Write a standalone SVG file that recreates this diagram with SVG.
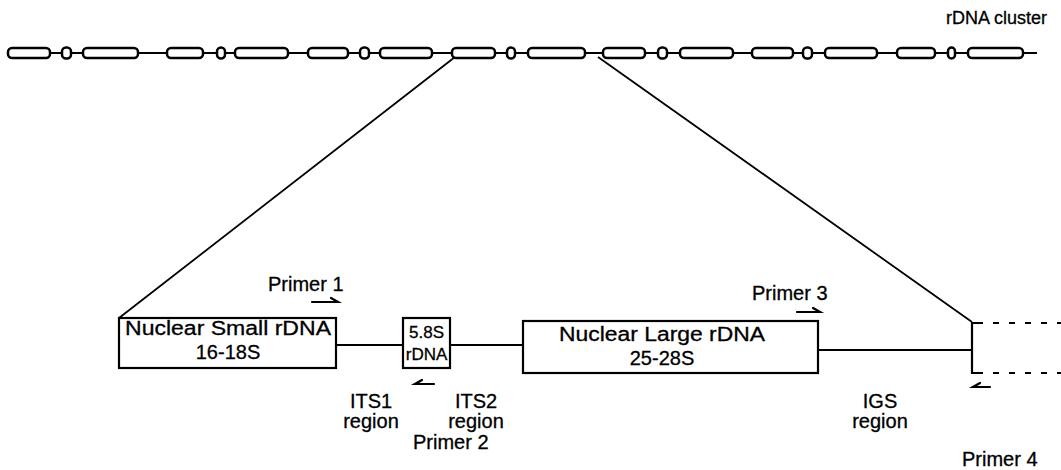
<svg xmlns="http://www.w3.org/2000/svg" width="1061" height="470" viewBox="0 0 1061 470">
<style>
.bg{fill:#fff}
.seg{fill:#fff;stroke:#000;stroke-width:2.5}
.box{fill:#fff;stroke:#000;stroke-width:2.2}
.ln{fill:none;stroke:#000;stroke-width:1.8}
.dash{fill:none;stroke:#000;stroke-width:2.2;stroke-dasharray:6 10}
.arr{fill:none;stroke:#000;stroke-width:2.2;stroke-linecap:round}
text{font-family:"Liberation Sans",Arial,sans-serif;font-size:20px;fill:#000;stroke:#000;stroke-width:0.3}
.c{text-anchor:middle}
.sm{font-size:17px}
.t{font-size:18px}
</style>
<rect class="bg" width="1061" height="470"/>
<g id="connectors">
<line class="ln" x1="10" y1="53" x2="1037" y2="53"/>
<line class="ln" x1="455" y1="57" x2="119" y2="318"/>
<line class="ln" x1="598" y1="57" x2="972" y2="322"/>
<line class="ln" x1="336" y1="345" x2="403" y2="345"/>
<line class="ln" x1="450" y1="345" x2="523" y2="345"/>
<line class="ln" x1="818" y1="350" x2="972" y2="350"/>
</g>
<g id="rdna-cluster">
<rect class="seg" x="8" y="48" width="42" height="10" rx="4"/>
<rect class="seg" x="62" y="47.5" width="9" height="11" rx="4"/>
<rect class="seg" x="83" y="48" width="55" height="10" rx="4"/>
<rect class="seg" x="167" y="48" width="36" height="10" rx="4"/>
<rect class="seg" x="217" y="47.5" width="8" height="11" rx="4"/>
<rect class="seg" x="235" y="48" width="53" height="10" rx="4"/>
<rect class="seg" x="308" y="48" width="40" height="10" rx="4"/>
<rect class="seg" x="360" y="47.5" width="9" height="11" rx="4"/>
<rect class="seg" x="380" y="48" width="52" height="10" rx="4"/>
<rect class="seg" x="452" y="48" width="43" height="10" rx="4"/>
<rect class="seg" x="507" y="47.5" width="8" height="11" rx="4"/>
<rect class="seg" x="528" y="48" width="57" height="10" rx="4"/>
<rect class="seg" x="603" y="48" width="42" height="10" rx="4"/>
<rect class="seg" x="658" y="47.5" width="9" height="11" rx="4"/>
<rect class="seg" x="680" y="48" width="53" height="10" rx="4"/>
<rect class="seg" x="752" y="48" width="41" height="10" rx="4"/>
<rect class="seg" x="803" y="47.5" width="9" height="11" rx="4"/>
<rect class="seg" x="825" y="48" width="52" height="10" rx="4"/>
<rect class="seg" x="897" y="48" width="38" height="10" rx="4"/>
<rect class="seg" x="948" y="47.5" width="7" height="11" rx="3.5"/>
<rect class="seg" x="968" y="48" width="55" height="10" rx="4"/>
<text class="t" x="1047" y="24" text-anchor="end">rDNA cluster</text>
</g>
<g id="small-rdna">
<rect class="box" x="119" y="318" width="217" height="50"/>
<text class="c" x="228" y="335" textLength="206" lengthAdjust="spacingAndGlyphs">Nuclear Small rDNA</text>
<text class="c" x="228" y="359">16-18S</text>
</g>
<g id="rdna-58s">
<rect class="box" x="403" y="318" width="47" height="50"/>
<text class="c sm" x="426.5" y="338">5.8S</text>
<text class="c sm" x="426.5" y="360">rDNA</text>
</g>
<g id="large-rdna">
<rect class="box" x="523" y="321" width="295" height="52"/>
<text class="c" x="662" y="341" textLength="206" lengthAdjust="spacingAndGlyphs">Nuclear Large rDNA</text>
<text class="c" x="662" y="365">25-28S</text>
</g>
<g id="igs-bracket">
<path class="ln" d="M983 323 H972 V373 H983" style="stroke-width:2.2"/>
<line class="dash" x1="993" y1="323" x2="1061" y2="323"/>
<line class="dash" x1="993" y1="373" x2="1061" y2="373"/>
</g>
<g id="primer1">
<text x="268" y="291">Primer 1</text>
<path class="arr" d="M312 302 H338 L331 298"/>
</g>
<g id="primer2">
<path class="arr" d="M434 384 H415 L422 380"/>
<text x="413" y="449">Primer 2</text>
</g>
<g id="primer3">
<text x="752" y="300">Primer 3</text>
<path class="arr" d="M797 312 H820 L813 308"/>
</g>
<g id="primer4">
<path class="arr" d="M990 387 H973 L980 383"/>
<text x="962" y="466">Primer 4</text>
</g>
<g id="its1">
<text class="c" x="371" y="408">ITS1</text>
<text class="c" x="371" y="428">region</text>
</g>
<g id="its2">
<text class="c" x="476" y="408">ITS2</text>
<text class="c" x="476" y="428">region</text>
</g>
<g id="igs">
<text class="c" x="880" y="408">IGS</text>
<text class="c" x="880" y="428">region</text>
</g>
</svg>
